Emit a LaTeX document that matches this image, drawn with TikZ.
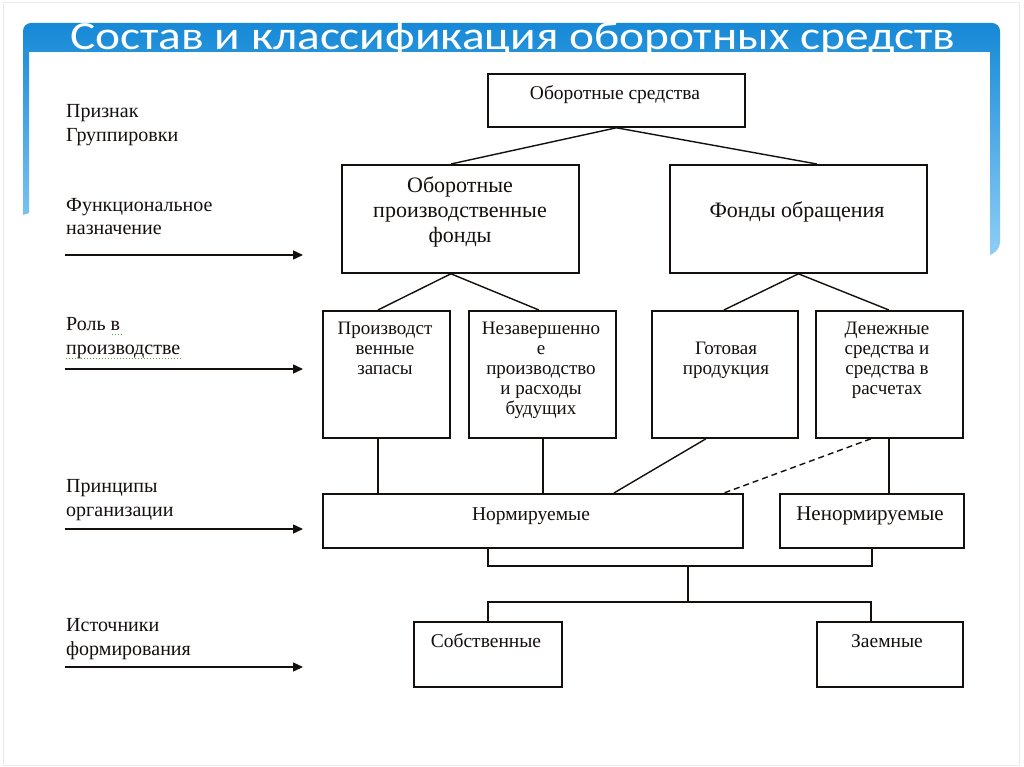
\documentclass[tikz,border=0pt]{standalone}
\usepackage{fontspec}
\setmainfont{Liberation Serif}
\newfontfamily\titlefont{Carlito}
\usetikzlibrary{arrows.meta,calc}
\definecolor{frameTop}{RGB}{22,137,215}
\definecolor{frameBot}{RGB}{142,206,245}
\definecolor{ink}{RGB}{20,16,14}
\definecolor{squig}{RGB}{80,170,60}
\begin{document}
\begin{tikzpicture}[x=1pt,y=-1pt,
  box/.style={draw=ink,line width=1.8pt,inner sep=0pt,anchor=north west},
  conn/.style={draw=ink,line width=1.4pt},
  arr/.style={draw=ink,line width=1.4pt,-{Triangle[length=10pt,width=9pt]}},
  lab/.style={text=ink,font=\fontsize{20}{24}\selectfont,anchor=base west,inner sep=0pt,align=left},
  tbig/.style={text=ink,font=\fontsize{22}{24.5}\selectfont,anchor=base,inner sep=0pt,align=center},
  tmid/.style={text=ink,font=\fontsize{19.5}{24}\selectfont,anchor=base,inner sep=0pt,align=center},
  tsmall/.style={text=ink,font=\fontsize{19}{20}\selectfont,anchor=base,inner sep=0pt,align=center}
]
% page
\path[fill=white] (0,0) rectangle (1024,767);
\useasboundingbox (0,0) rectangle (1024,767);
\draw[black!8,line width=1pt] (3,3) rectangle (1019,765);
% blue frame
\shade[top color=frameTop,bottom color=frameBot]
  (23,215) [rounded corners=8pt] -- (23,23) -- (1000,23) -- (1000,250) [sharp corners] -- (990,255) -- (990,52) -- (29,52) -- (29,213) -- cycle;
\begin{scope}
\clip (23,23) rectangle (1000,52);
\node[anchor=base west,inner sep=0pt,text=white] (title) at (70,50)
  {\resizebox{885pt}{\height}{\titlefont\fontsize{40}{46}\selectfont Состав и классификация оборотных средств}};
\end{scope}

% left labels (anchored at the baseline of the last line)
\node[lab] (l1) at (66,142) {Признак\\Группировки};
\node[lab] (l2) at (66,235) {Функциональное\\назначение};
\node[lab] (l3) at (66,354) {Роль в\\производстве};
\node[lab] (l4) at (66,516) {Принципы\\организации};
\node[lab] (l5) at (66,655) {Источники\\формирования};
\draw[squig,dotted,line width=1pt] (112,334) -- (122,334);
\draw[squig,dotted,line width=1pt] (66,358) -- (182,358);

\coordinate (a1s) at (65,255); \coordinate (a1e) at (303,255);
\coordinate (a2s) at (65,369); \coordinate (a2e) at (303,369);
\coordinate (a3s) at (65,529); \coordinate (a3e) at (303,529);
\coordinate (a4s) at (65,667); \coordinate (a4e) at (303,667);
\draw[arr] (a1s) -- (a1e);
\draw[arr] (a2s) -- (a2e);
\draw[arr] (a3s) -- (a3e);
\draw[arr] (a4s) -- (a4e);

% boxes
\node[box,minimum width=257pt,minimum height=53pt] (top) at (487,73) {};
\node[box,minimum width=237pt,minimum height=108pt] (opf) at (341,164) {};
\node[box,minimum width=257pt,minimum height=108pt] (fo) at (669,164) {};
\node[box,minimum width=127pt,minimum height=127pt] (pz) at (322,310) {};
\node[box,minimum width=147pt,minimum height=127pt] (nzp) at (468,310) {};
\node[box,minimum width=146pt,minimum height=127pt] (gp) at (651,310) {};
\node[box,minimum width=147pt,minimum height=127pt] (ds) at (815,310) {};
\node[box,minimum width=420pt,minimum height=54pt] (norm) at (322,493) {};
\node[box,minimum width=184pt,minimum height=54pt] (nenorm) at (779,493) {};
\node[box,minimum width=148pt,minimum height=65pt] (sob) at (413,621) {};
\node[box,minimum width=146pt,minimum height=65pt] (zaem) at (816,621) {};

% texts (multi-line ones anchored at the baseline of their last line)
\node[tmid] (ttop) at (615,100) {Оборотные средства};
\node[tbig] (topf) at (460,242) {Оборотные\\производственные\\фонды};
\node[tbig] (tfo) at (797,218) {Фонды обращения};
\node[tsmall] (tpz) at (385,374) {Производст\\венные\\запасы};
\node[tsmall] (tnzp) at (541,414) {Незавершенно\\е\\производство\\и расходы\\будущих};
\node[tsmall] (tgp) at (726,374) {Готовая\\продукция};
\node[tsmall] (tds) at (887,394) {Денежные\\средства и\\средства в\\расчетах};
\node[tmid] (tnorm) at (531,520) {Нормируемые};
\node[tmid,font=\fontsize{21}{24}\selectfont] (tnenorm) at (870,520) {Ненормируемые};
\node[tmid] (tsob) at (486,647) {Собственные};
\node[tmid] (tzaem) at (887,647) {Заемные};

% connectors
\draw[conn] (top.south) -- ([xshift=-9.5pt]opf.north);
\draw[conn] (top.south) -- ([xshift=18.5pt]fo.north);
\draw[conn] ([xshift=-9.5pt]opf.south) -- ([xshift=-8.5pt]pz.north);
\draw[conn] ([xshift=-9.5pt]opf.south) -- ([xshift=-3.5pt]nzp.north);
\draw[conn] (fo.south) -- ([xshift=-1pt]gp.north);
\draw[conn] (fo.south) -- ([xshift=-0.5pt]ds.north);
\draw[conn] ([xshift=-8.5pt]pz.south) -- ([xshift=-8.5pt]pz.south |- norm.north);
\draw[conn] ([xshift=0.5pt]nzp.south) -- ([xshift=0.5pt]nzp.south |- norm.north);
\draw[conn] ([xshift=-19pt]gp.south) -- ([xshift=81pt]norm.north);
\draw[conn,dash pattern=on 6pt off 4pt] ([xshift=-18.5pt]ds.south) -- ([xshift=191pt]norm.north);
\draw[conn] ([xshift=-0.5pt]ds.south) -- ([xshift=-0.5pt]ds.south |- nenorm.north);
\coordinate (j1) at (688,566);
\coordinate (j2) at (688,602);
\draw[conn] ([xshift=-45pt]norm.south) |- (j1) -| (nenorm.south);
\draw[conn] (j1) -- (j2);
\draw[conn] (sob.north) |- (j2) -| ([xshift=-19pt]zaem.north);
\end{tikzpicture}
\end{document}
